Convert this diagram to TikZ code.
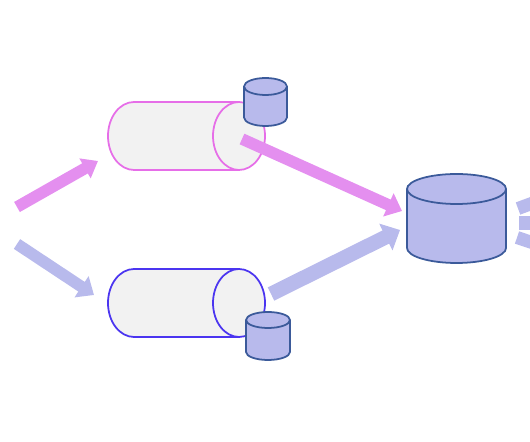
\documentclass[tikz,border=0pt]{standalone}
\usepackage{xcolor}
\usepackage{tikz}
\usetikzlibrary{arrows.meta}
\definecolor{custompink}{HTML}{E48FEF}
\definecolor{customblue}{HTML}{B8BAEC}
\definecolor{pinkline}{HTML}{E66EE8}
\definecolor{blueline}{HTML}{4B35F0}
\definecolor{storeline}{HTML}{3B5A9A}
\tikzset{
    flow/.style={line width=6.6pt, -{Triangle[width=14pt,length=8.5pt]}},
    stub/.style={line width=7.4pt}
}
% centre, colour
\newcommand{\drawtube}[2]{
    \begin{scope}[shift={(#1)}]
        \draw[#2, line width=1pt, fill=black!5] (1.05,0.68) -- (-1.05,0.68) arc (90:270:0.52 and 0.68) -- (1.05,-0.68) arc (-90:90:0.52 and 0.68) -- cycle;
        \draw[#2, line width=1pt] (1.05,0.68) arc (90:270:0.52 and 0.68);
    \end{scope}
}
% centre, half width, half height of the side, end radius
\newcommand{\drawstore}[4]{
    \begin{scope}[shift={(#1)}]
        \draw[storeline, line width=1pt, fill=customblue] (-#2,#3) -- (-#2,-#3) arc (180:360:#2 and #4) -- (#2,#3) arc (0:180:#2 and #4) -- cycle;
        \draw[storeline, line width=1pt] (-#2,#3) arc (180:360:#2 and #4);
    \end{scope}
}

\begin{document}
\begin{tikzpicture}
    \useasboundingbox (0,0) rectangle (10.6,8.84);
    \clip (0,0) rectangle (10.6,8.84);

    \coordinate (tubeA) at (3.73,6.12);
    \coordinate (tubeB) at (3.73,2.78);
    \coordinate (storeA) at (5.31,6.8);
    \coordinate (storeB) at (5.36,2.12);
    \coordinate (storeC) at (9.13,4.47);

    % tubes and stores
    \drawtube{tubeA}{pinkline}
    \drawtube{tubeB}{blueline}
    \drawstore{storeA}{0.43}{0.31}{0.17}
    \drawstore{storeB}{0.44}{0.32}{0.16}
    \drawstore{storeC}{0.99}{0.59}{0.30}

    % free ends
    \coordinate (inA) at (0.34,4.70);
    \coordinate (inAend) at (1.96,5.62);
    \coordinate (inB) at (0.34,3.96);
    \coordinate (inBend) at (1.88,2.94);
    \coordinate (outA) at (4.84,6.06);
    \coordinate (outAend) at (8.04,4.62);
    \coordinate (outB) at (5.42,2.96);
    \coordinate (outBend) at (8.0,4.24);
    \coordinate (stubA) at (10.36,4.67);
    \coordinate (stubAend) at (11.2,4.98);
    \coordinate (stubB) at (10.38,4.38);
    \coordinate (stubBend) at (11.2,4.38);
    \coordinate (stubC) at (10.34,4.09);
    \coordinate (stubCend) at (11.2,3.80);

    \draw[flow, custompink, -{Triangle[width=12.5pt,length=8.5pt]}] (inA) -- (inAend);
    \draw[flow, customblue] (inB) -- (inBend);
    \draw[flow, custompink] (outA) -- (outAend);
    \draw[flow, customblue, line width=8.4pt, -{Triangle[width=16.5pt,length=9pt]}] (outB) -- (outBend);
    \draw[stub, customblue] (stubA) -- (stubAend);
    \draw[stub, customblue, line width=8pt] (stubB) -- (stubBend);
    \draw[stub, customblue] (stubC) -- (stubCend);
\end{tikzpicture}
\end{document}
